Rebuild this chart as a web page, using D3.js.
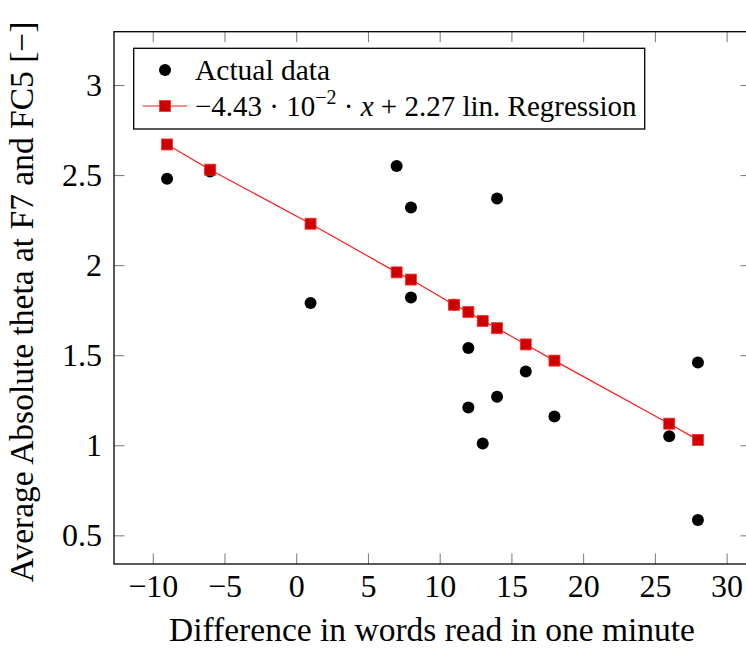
<!DOCTYPE html>
<html lang="en">
<head>
<meta charset="UTF-8">
<title>Theta vs words read</title>
<script src="https://cdn.jsdelivr.net/npm/d3@7"></script>
<style>
    body {margin: 0; background: #fff;}
    svg text {font-family: "Liberation Serif", "Times New Roman", serif; fill: #000;}
</style>
</head>
<body>
<div id="graf"></div>
<script>
    // measured points (black dots)
    let dataX = [-9, -6, 1, 7, 8, 8, 11, 12, 12, 13, 14, 14, 16, 18, 26, 28, 28];
    let dataY = [2.48, 2.52, 1.79, 2.55, 2.32, 1.82, 1.78, 1.54, 1.21, 1.01, 2.37, 1.27, 1.41, 1.16, 1.05, 1.46, 0.585];
    // regression points (red squares)
    let regX = [-9, -6, 1, 7, 8, 11, 12, 13, 14, 16, 18, 26, 28];
    let regY = [2.67, 2.53, 2.23, 1.96, 1.92, 1.78, 1.74, 1.69, 1.65, 1.56, 1.47, 1.12, 1.03];
    let xTicks = [-10, -5, 0, 5, 10, 15, 20, 25, 30];
    let yTicks = [0.5, 1, 1.5, 2, 2.5, 3];

    let W = 746, H = 649;
    let margin = {top: 31.7, right: -5, bottom: 85, left: 114};
    let width = W - margin.left - margin.right,
        height = H - margin.top - margin.bottom;

    let svg = d3.select("#graf").append("svg")
        .attr("width", W).attr("height", H);
    let g = svg.append("g")
        .attr("transform", "translate(" + margin.left + "," + margin.top + ")");

    let x = d3.scaleLinear().domain([-12.7, 31.7]).range([0, width]);
    let y = d3.scaleLinear().domain([0.341, 3.296]).range([height, 0]);

    let fmt = function(d) { return String(d).replace("-", "\u2212"); };
    let tickLen = 10.5;

    // bottom + top axes, left + right axes (ticks point inwards)
    let xb = g.append("g").attr("transform", "translate(0," + height + ")")
        .call(d3.axisBottom(x).tickValues(xTicks).tickFormat(fmt).tickSizeInner(-tickLen).tickSizeOuter(0).tickPadding(10));
    let xt = g.append("g")
        .call(d3.axisTop(x).tickValues(xTicks).tickFormat("").tickSizeInner(-tickLen).tickSizeOuter(0));
    let yl = g.append("g")
        .call(d3.axisLeft(y).tickValues(yTicks).tickFormat(fmt).tickSizeInner(-tickLen).tickSizeOuter(0).tickPadding(12));
    let yr = g.append("g").attr("transform", "translate(" + width + ",0)")
        .call(d3.axisRight(y).tickValues(yTicks).tickFormat("").tickSizeInner(-tickLen).tickSizeOuter(0));

    [xb, xt, yl, yr].forEach(function(a) {
        a.attr("font-family", null);
        a.select(".domain").remove();
        a.selectAll(".tick line").attr("stroke", "#777").attr("stroke-width", 1);
        a.selectAll(".tick text").attr("font-size", 32);
    });
    xb.selectAll(".tick text").attr("dy", "0.71em");

    g.append("rect")
        .attr("x", 0).attr("y", 0).attr("width", width).attr("height", height)
        .attr("fill", "none").attr("stroke", "#000").attr("stroke-width", 1.3);

    // regression line
    let reg = regX.map(function(d, i) { return {x: d, y: regY[i]}; });
    g.append("path")
        .datum(reg)
        .attr("fill", "none").attr("stroke", "#ff1a1a").attr("stroke-width", 1.2)
        .attr("d", d3.line().x(function(d) { return x(d.x); }).y(function(d) { return y(d.y); }));

    // actual data
    let pts = dataX.map(function(d, i) { return {x: d, y: dataY[i]}; });
    g.selectAll("circle.pt").data(pts).enter().append("circle")
        .attr("class", "pt")
        .attr("cx", function(d) { return x(d.x); })
        .attr("cy", function(d) { return y(d.y); })
        .attr("r", 6).attr("fill", "#000");

    let sq = 11;
    g.selectAll("rect.sq").data(reg).enter().append("rect")
        .attr("class", "sq")
        .attr("x", function(d) { return x(d.x) - sq / 2; })
        .attr("y", function(d) { return y(d.y) - sq / 2; })
        .attr("width", sq).attr("height", sq)
        .attr("fill", "#cc0000").attr("stroke", "#ff3030").attr("stroke-width", 0.8);

    // legend
    let lg = svg.append("g");
    lg.append("rect")
        .attr("x", 133.7).attr("y", 48.3).attr("width", 511).attr("height", 80.7)
        .attr("fill", "#fff").attr("stroke", "#000").attr("stroke-width", 1.3);
    lg.append("circle").attr("cx", 165).attr("cy", 70).attr("r", 6).attr("fill", "#000");
    lg.append("text").attr("x", 195).attr("y", 80).attr("font-size", 29.5).text("Actual data");
    lg.append("line").attr("x1", 142.7).attr("x2", 187.3).attr("y1", 106).attr("y2", 106)
        .attr("stroke", "#ff1a1a").attr("stroke-width", 1.2);
    lg.append("rect").attr("x", 165 - sq / 2).attr("y", 106 - sq / 2).attr("width", sq).attr("height", sq)
        .attr("fill", "#cc0000").attr("stroke", "#ff3030").attr("stroke-width", 0.8);
    let t2 = lg.append("text").attr("x", 195).attr("y", 116).attr("font-size", 29);
    t2.append("tspan").text("\u22124.43 \u00b7 10");
    t2.append("tspan").attr("font-size", 20).attr("dy", -12).text("\u22122");
    t2.append("tspan").attr("dy", 12).text(" \u00b7 ");
    t2.append("tspan").attr("font-style", "italic").text("x");
    t2.append("tspan").text(" + 2.27 lin. Regression");

    // axis titles
    svg.append("text")
        .attr("x", 432).attr("y", 641).attr("text-anchor", "middle").attr("font-size", 33.5)
        .text("Difference in words read in one minute");
    svg.append("text")
        .attr("transform", "translate(33,302) rotate(-90)")
        .attr("text-anchor", "middle").attr("font-size", 33.5)
        .text("Average Absolute theta at F7 and FC5 [\u2212]");
</script>
</body>
</html>
